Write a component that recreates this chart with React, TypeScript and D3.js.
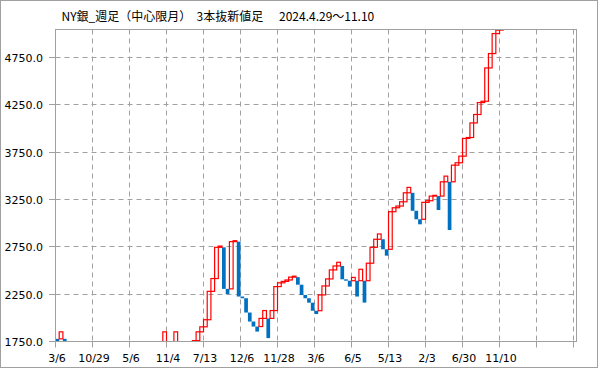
import React from "react";
import * as d3 from "d3";

// three-line-break bars: open (start) and close (end) of each box, in order
const barOpen = [
  1778, 1778, 1778, 1700, 1650, 1600, 1600, 1680, 1680, 1590,
  1520, 1480, 1480, 1560, 1640, 1640, 1560, 1500, 1500, 1600,
  1600, 1520, 1450, 1450, 1520, 1600, 1660, 1660, 1600, 1600,
  1600, 1500, 1500, 1500, 1420, 1420, 1550, 1700, 1760, 1852,
  1905, 1980, 2280, 2415, 2745, 2745, 2306, 2306, 2805, 2805,
  2225, 2207, 2056, 1961, 1908, 1908, 1994, 1994, 1994, 2077,
  2330, 2370, 2385, 2400, 2430, 2430, 2350, 2241, 2207, 2160,
  2075, 2075, 2242, 2337, 2411, 2506, 2548, 2548, 2407, 2392,
  2392, 2392, 2392, 2392, 2392, 2577, 2745, 2830, 2830, 2724,
  2724, 3121, 3163, 3181, 3226, 3321, 3321, 3131, 3041, 3041,
  3220, 3237, 3286, 3286, 3286, 3437, 3437, 3437, 3613, 3638,
  3708, 3895, 3905, 4059, 4148, 4274, 4288, 4640, 4792, 5003,
  5040,
];
const barClose = [
  1720, 1852, 1700, 1650, 1600, 1560, 1680, 1720, 1590, 1520,
  1480, 1420, 1560, 1640, 1700, 1560, 1500, 1460, 1600, 1680,
  1520, 1450, 1400, 1520, 1600, 1660, 1720, 1600, 1540, 1852,
  1500, 1450, 1852, 1420, 1200, 1550, 1700, 1760, 1852, 1905,
  1980, 2280, 2415, 2745, 2758, 2306, 2250, 2805, 2815, 2225,
  2207, 2056, 1961, 1908, 1855, 1994, 2077, 1786, 2077, 2330,
  2370, 2385, 2400, 2430, 2440, 2350, 2241, 2207, 2160, 2075,
  2040, 2242, 2337, 2411, 2506, 2548, 2587, 2407, 2392, 2330,
  2427, 2225, 2513, 2161, 2577, 2745, 2830, 2886, 2724, 2657,
  3121, 3163, 3181, 3226, 3321, 3378, 3131, 3041, 2988, 3220,
  3237, 3286, 3294, 3139, 3437, 3497, 2928, 3613, 3638, 3708,
  3895, 3905, 4059, 4148, 4274, 4288, 4640, 4792, 5003, 5040,
  5100,
];

const xTickLabels = ["3/6", "10/29", "5/6", "11/4", "7/13", "12/6", "11/28", "3/6", "6/5", "5/13", "2/3", "6/30", "11/10", "", ""];
const yTickValues = [1750, 2250, 2750, 3250, 3750, 4250, 4750];
const titleParts = ["NY銀_週足（中心限月）", "3本抜新値足", "2024.4.29～11.10"];

const BARS_PER_TICK = 10;

export default function App() {
  const W = 599;
  const H = 369;
  const left = 55.5, right = 576.5, top = 29.5, bottom = 341.5;
  const x = d3.scaleLinear().domain([0, 140.8]).range([left, right]);
  const y = d3.scaleLinear().domain([1750, 5046]).range([bottom, top]);
  const gridCol = "#a0a0a0";
  const crisp = (v: number) => Math.floor(v) + 0.5;

  const bars = barOpen.map((o, i) => {
    const c = barClose[i];
    const up = c > o;
    const x0 = x(i);
    const x1 = x(i + 1);
    const yTop = y(Math.max(o, c));
    const yBot = y(Math.min(o, c));
    return { i, up, x0, x1, yTop, yBot };
  });

  return (
    <svg width={W} height={H} style={{ position: "absolute", left: 0, top: 0, display: "block", background: "#fff" }}
      fontFamily="'DejaVu Sans', sans-serif">
      <defs>
        <clipPath id="plot">
          <rect x={left} y={top} width={right - left} height={bottom - top} />
        </clipPath>
      </defs>
      <rect x={0.5} y={0.5} width={597} height={367} fill="#fff" stroke={gridCol} />
      {/* title */}
      <g fontFamily="'Noto Sans CJK JP', sans-serif" fontSize={12} fill="#000">
        <text x={61.5} y={21}>{titleParts[0]}</text>
        <text x={196.5} y={21}>{titleParts[1]}</text>
        <text x={279} y={21}>{titleParts[2]}</text>
      </g>
      {/* horizontal grid */}
      {yTickValues.map((v) => {
        const yy = crisp(y(v));
        return (
          <g key={"y" + v}>
            {v !== 1750 && (
              <line x1={left} x2={right} y1={yy} y2={yy} stroke={gridCol} strokeDasharray="5,4" />
            )}
            <line x1={49} x2={left} y1={yy} y2={yy} stroke={gridCol} />
            <text x={43} y={yy + 4} fontSize={11} textAnchor="end" fill="#000">{v.toFixed(1)}</text>
          </g>
        );
      })}
      {/* vertical grid */}
      {xTickLabels.map((lab, k) => {
        const xx = crisp(x(k * BARS_PER_TICK));
        return (
          <g key={"x" + k}>
            {k > 0 && <line x1={xx} x2={xx} y1={top} y2={bottom} stroke={gridCol} strokeDasharray="5,4" />}
            <line x1={xx} x2={xx} y1={bottom} y2={bottom + 6} stroke={gridCol} />
            {lab && (
              <text x={xx + 1.5} y={362} fontSize={11} textAnchor="middle" fill="#000">{lab}</text>
            )}
          </g>
        );
      })}
      {/* bars */}
      <g clipPath="url(#plot)">
        {bars.filter((b) => !b.up).map((b) => (
          <rect key={"d" + b.i} x={b.x0} y={b.yTop} width={b.x1 - b.x0} height={Math.max(1, b.yBot - b.yTop)} fill="#0070c0" />
        ))}
        {bars.filter((b) => b.up).map((b) => (
          <rect key={"u" + b.i} x={b.x0} y={b.yTop} width={b.x1 - b.x0} height={Math.max(0.5, b.yBot - b.yTop)}
            fill="none" stroke="#ff0000" strokeWidth={1.2} />
        ))}
      </g>
      {/* plot frame */}
      <rect x={left} y={top} width={right - left} height={bottom - top} fill="none" stroke={gridCol} />
    </svg>
  );
}
